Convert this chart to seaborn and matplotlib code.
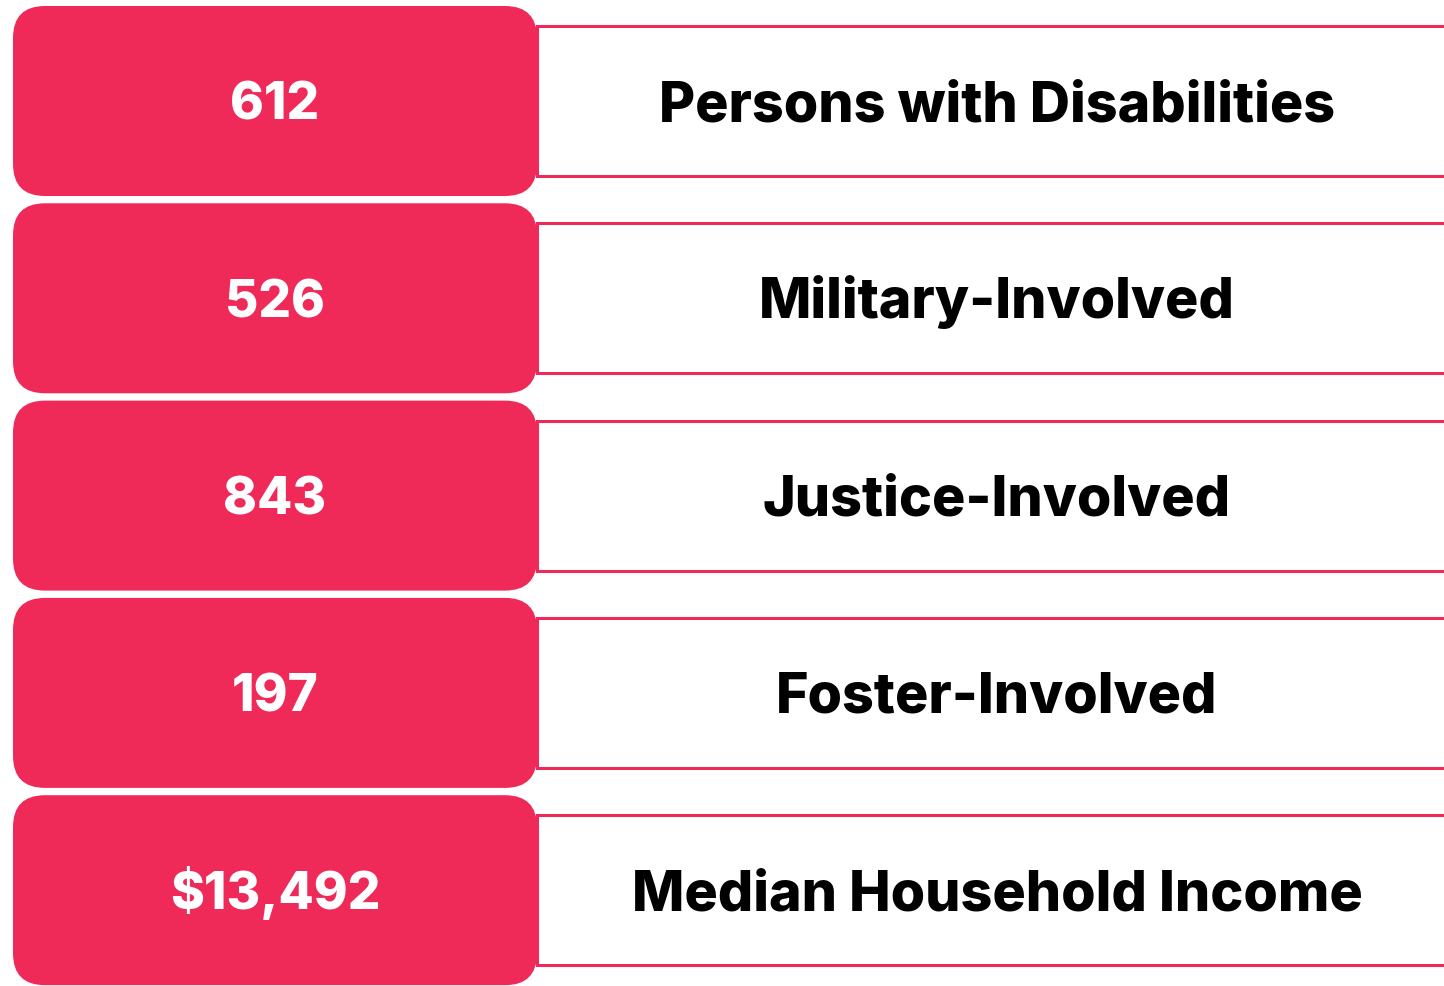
import matplotlib
matplotlib.use("Agg")
import matplotlib.pyplot as plt
from matplotlib.patches import FancyBboxPatch, Rectangle
import seaborn as sns

## Data
values = ["612", "526", "843", "197", "$13,492"]
labels = ["Persons with Disabilities", "Military-Involved", "Justice-Involved",
          "Foster-Involved", "Median Household Income"]

pink = "#EF2A59"

sns.set_theme(style="white")
plt.rcParams['font.family'] = ['Inter', 'DejaVu Sans']

fig = plt.figure(figsize=(14.44, 9.86), dpi=100)
ax = fig.add_axes([0, 0, 1, 1])
ax.set_xlim(0, 1444)
ax.set_ylim(986, 0)
ax.axis("off")

pitch = 197.3
for i, (val, lab) in enumerate(zip(values, labels)):
    cy = 101 + pitch * i
    # right panel with pink borders
    ax.add_patch(Rectangle((537, cy - 75), 920, 150, facecolor="white",
                           edgecolor=pink, linewidth=2.2, zorder=1))
    # rounded value box
    ax.add_patch(FancyBboxPatch((13, cy - 95), 524, 190,
                                boxstyle="round,pad=0,rounding_size=32",
                                facecolor=pink, edgecolor="none", zorder=2))
    ax.text(275, cy + 19, val, color="white", fontsize=37, fontweight="heavy",
            ha="center", va="baseline", zorder=3)
    ax.text(997, cy + 20, lab, color="black", fontsize=40, fontweight="heavy",
            ha="center", va="baseline", zorder=3)

fig.savefig("out.png", dpi=100, facecolor="white")
